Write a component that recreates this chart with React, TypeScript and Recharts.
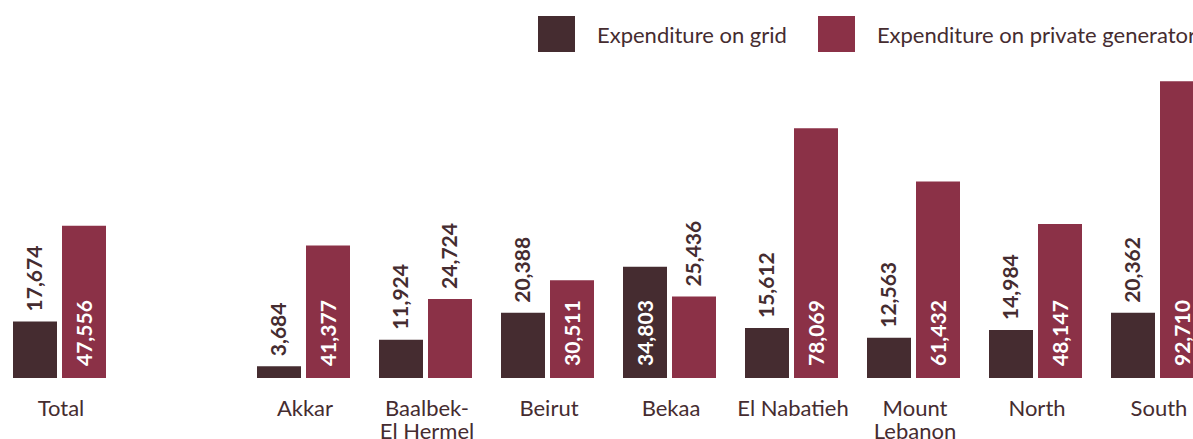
import { BarChart, Bar, XAxis, YAxis, Legend, LabelList } from 'recharts'

const REGIONS = ['Total', '', 'Akkar', 'Baalbek-\nEl Hermel', 'Beirut', 'Bekaa', 'El Nabatieh', 'Mount\nLebanon', 'North', 'South']
const GRID = [17674, null, 3684, 11924, 20388, 34803, 15612, 12563, 14984, 20362]
const PRIVATE = [47556, null, 41377, 24724, 30511, 25436, 78069, 61432, 48147, 92710]

const DARK = '#452c30'
const MAROON = '#8b3147'
const FONT = 'Lato, "Noto Sans", sans-serif'

const data = REGIONS.map((region, i) => ({ region, grid: GRID[i], private: PRIVATE[i] }))

function ValueLabel(props: any) {
  const { x, y, width, height, value } = props
  if (value == null) return null
  const inside = height > 90
  const cx = x + width / 2 + 7.5
  const ty = inside ? y + height - 12 : y - 10
  return (
    <text
      x={cx}
      y={ty}
      transform={`rotate(-90 ${cx} ${ty})`}
      textAnchor="start"
      fill={inside ? '#fff' : DARK}
      fontFamily={FONT}
      fontWeight={700}
      fontSize={21}
    >
      {Number(value).toLocaleString('en-US')}
    </text>
  )
}

function RegionTick({ x, y, payload }: any) {
  const lines = String(payload.value).split('\n')
  return (
    <text x={x + 2} y={y + 30} textAnchor="middle" fill={DARK} fontFamily={FONT} fontSize={22}>
      {lines.map((l, i) => (
        <tspan key={i} x={x + 2} dy={i === 0 ? 0 : 23}>{l}</tspan>
      ))}
    </text>
  )
}

function LegendBox({ payload }: any) {
  return (
    <div style={{ display: 'flex', alignItems: 'center', whiteSpace: 'nowrap', fontFamily: FONT, fontSize: 22, color: DARK, height: 36 }}>
      {payload.map((p: any, i: number) => (
        <div key={p.value} style={{ display: 'flex', alignItems: 'center', marginRight: i === 0 ? 31 : 0 }}>
          <span style={{ width: 37, height: 36, background: p.color, display: 'inline-block', marginRight: 22 }} />
          <span>{p.value}</span>
        </div>
      ))}
    </div>
  )
}

export default function App() {
  return (
    <div style={{ position: 'absolute', left: 0, top: 0, width: 1193, height: 439, overflow: 'hidden', background: '#fff' }}>
      <div style={{ position: 'absolute', left: -2, top: 0 }}>
        <BarChart
          width={1220}
          height={439}
          data={data}
          margin={{ top: 22, right: 0, bottom: 0, left: 0 }}
          barSize={44}
          barGap={5}
        >
          <XAxis dataKey="region" axisLine={false} tickLine={false} interval={0} tick={<RegionTick />} height={61} />
          <YAxis hide domain={[0, 100000]} />
          <Legend
            content={<LegendBox />}
            verticalAlign="top"
            wrapperStyle={{ position: 'absolute', left: 540, top: 16, width: 800 }}
          />
          <Bar dataKey="grid" name="Expenditure on grid" fill={DARK} isAnimationActive={false}>
            <LabelList dataKey="grid" content={<ValueLabel />} />
          </Bar>
          <Bar dataKey="private" name="Expenditure on private generator" fill={MAROON} isAnimationActive={false}>
            <LabelList dataKey="private" content={<ValueLabel />} />
          </Bar>
        </BarChart>
      </div>
    </div>
  )
}
